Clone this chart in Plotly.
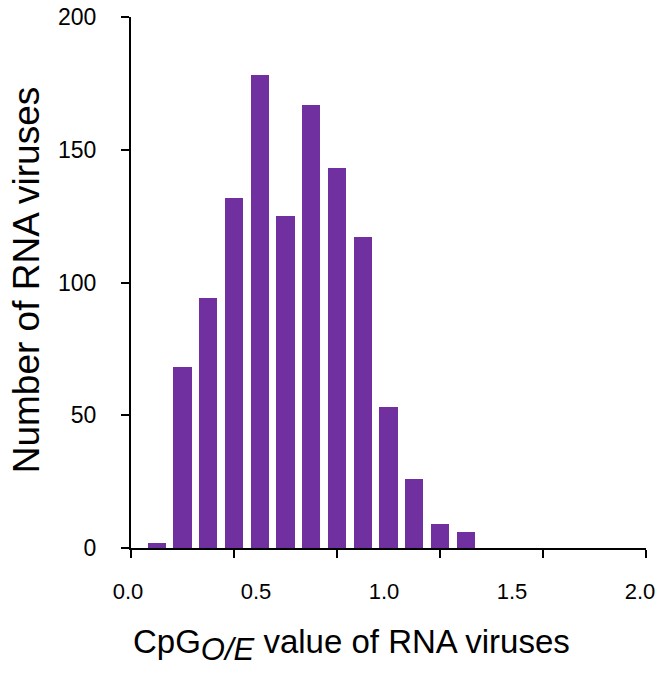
import plotly.graph_objects as go

# CpG O/E bins (category centres) and counts
cpg_values = [0.1, 0.2, 0.3, 0.4, 0.5, 0.6, 0.7, 0.8, 0.9, 1.0, 1.1, 1.2, 1.3]
virus_counts = [2, 68, 94, 132, 178, 125, 167, 143, 117, 53, 26, 9, 6]

x_tick_marks = [0.0, 0.4, 0.8, 1.2, 1.6, 2.0]
x_tick_labels = ["0.0", "0.5", "1.0", "1.5", "2.0"]
x_tick_label_vals = [0.0, 0.5, 1.0, 1.5, 2.0]
y_tick_vals = [0, 50, 100, 150, 200]

FONT = "Liberation Sans, Arial, sans-serif"
PURPLE = "#7030A0"

fig = go.Figure()
fig.add_trace(go.Bar(
    x=cpg_values, y=virus_counts, width=0.07,
    marker=dict(color=PURPLE, line=dict(width=0)),
    xaxis="x", yaxis="y",
))
# helper trace to activate the label axis
fig.add_trace(go.Scatter(x=[0.0, 2.0], y=[0, 0], xaxis="x2", yaxis="y",
                         mode="markers", marker=dict(opacity=0), hoverinfo="skip",
                         showlegend=False))

# page body has an 8px margin, so the figure sits 8px in from the window edge
PAPER_W = 518
fig.update_layout(
    width=650, height=660,
    margin=dict(l=120, r=12, t=9, b=120, autoexpand=False),
    paper_bgcolor="white", plot_bgcolor="rgba(0,0,0,0)",
    showlegend=False,
    font=dict(family=FONT, color="black"),
    bargap=0,
    xaxis=dict(
        domain=[3 / PAPER_W, 1],
        range=[0, 2.0], tickvals=x_tick_marks, showticklabels=False,
        ticks="outside", ticklen=8, tickwidth=2, tickcolor="black",
        showline=True, linecolor="black", linewidth=2,
        showgrid=False, zeroline=False, automargin=False,
    ),
    xaxis2=dict(
        domain=[0, 1 - 6 / PAPER_W], anchor="y", side="bottom", range=[0, 2.0],
        tickvals=x_tick_label_vals, ticktext=x_tick_labels,
        ticks="", showline=False, showgrid=False, zeroline=False,
        tickfont=dict(size=22, family=FONT, color="black"),
        ticklabelstandoff=28, automargin=False, ticklabeloverflow="allow",
    ),
    yaxis=dict(
        range=[0, 200], tickvals=y_tick_vals, anchor="x",
        ticks="outside", ticklen=8, tickwidth=2, tickcolor="black",
        showline=True, linecolor="black", linewidth=2,
        showgrid=False, zeroline=False, automargin=False,
        tickfont=dict(size=23, family=FONT, color="black"),
        ticklabelstandoff=20, ticklabeloverflow="allow",
    ),
    annotations=[
        dict(text="Number of RNA viruses", textangle=-90,
             xref="paper", yref="paper", x=-0.196, y=0.505,
             xanchor="center", yanchor="middle", showarrow=False,
             font=dict(size=37, family=FONT, color="black")),
        dict(text="CpG<sub><i><span style='font-size:31px'>O/E</span></i></sub> value of RNA viruses",
             xref="paper", yref="paper", x=0.4315, y=-0.1835,
             xanchor="center", yanchor="middle", showarrow=False,
             font=dict(size=33, family=FONT, color="black")),
    ],
)

fig.write_html("out.html")
